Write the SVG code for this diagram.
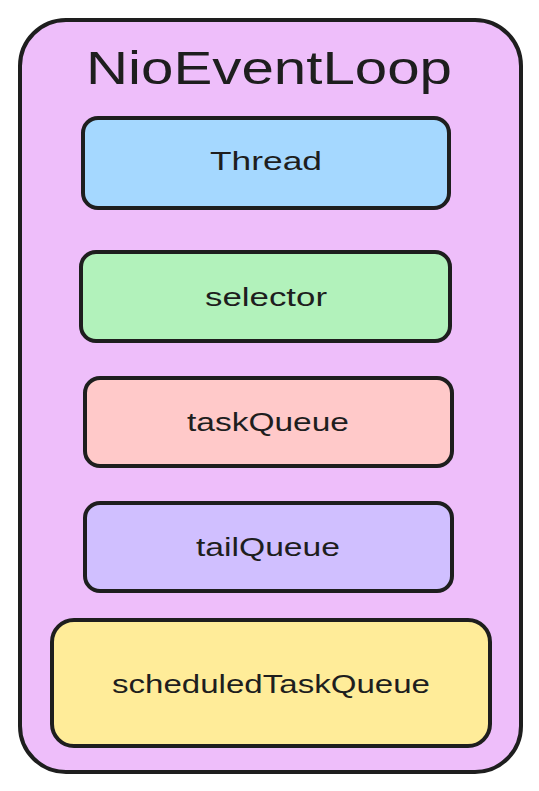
<svg xmlns="http://www.w3.org/2000/svg" width="539" height="791" viewBox="0 0 539 791">
<style>
.box{stroke:#1e1e1e;stroke-width:4;stroke-linejoin:round}
.lbl{font-family:"Liberation Sans",Arial,sans-serif;font-size:26px;fill:#1e1e1e;text-anchor:middle;dominant-baseline:central}
.title{font-family:"Liberation Sans",Arial,sans-serif;font-size:46px;fill:#1e1e1e;text-anchor:middle;dominant-baseline:central}
</style>
<rect width="539" height="791" fill="#ffffff"/>
<g id="NioEventLoop">
<rect class="box" x="20" y="20" width="501" height="752" rx="46" ry="46" fill="#eebefa"/>
<text class="title" x="269" y="68" textLength="366" lengthAdjust="spacingAndGlyphs">NioEventLoop</text>
</g>
<g id="Thread">
<rect class="box" x="83" y="118" width="366" height="90" rx="15" fill="#a5d8ff"/>
<text class="lbl" x="266" y="161" textLength="112" lengthAdjust="spacingAndGlyphs">Thread</text>
</g>
<g id="selector">
<rect class="box" x="81" y="252" width="369" height="89" rx="15" fill="#b2f2bb"/>
<text class="lbl" x="266" y="297" textLength="122" lengthAdjust="spacingAndGlyphs">selector</text>
</g>
<g id="taskQueue">
<rect class="box" x="85" y="378" width="367" height="88" rx="15" fill="#ffc9c9"/>
<text class="lbl" x="268" y="422" textLength="162" lengthAdjust="spacingAndGlyphs">taskQueue</text>
</g>
<g id="tailQueue">
<rect class="box" x="85" y="503" width="367" height="88" rx="15" fill="#d0bfff"/>
<text class="lbl" x="268" y="547" textLength="144" lengthAdjust="spacingAndGlyphs">tailQueue</text>
</g>
<g id="scheduledTaskQueue">
<rect class="box" x="52" y="620" width="438" height="126" rx="22" fill="#ffec99"/>
<text class="lbl" x="271" y="684" textLength="318" lengthAdjust="spacingAndGlyphs">scheduledTaskQueue</text>
</g>
<g id="connectors"></g>
</svg>
